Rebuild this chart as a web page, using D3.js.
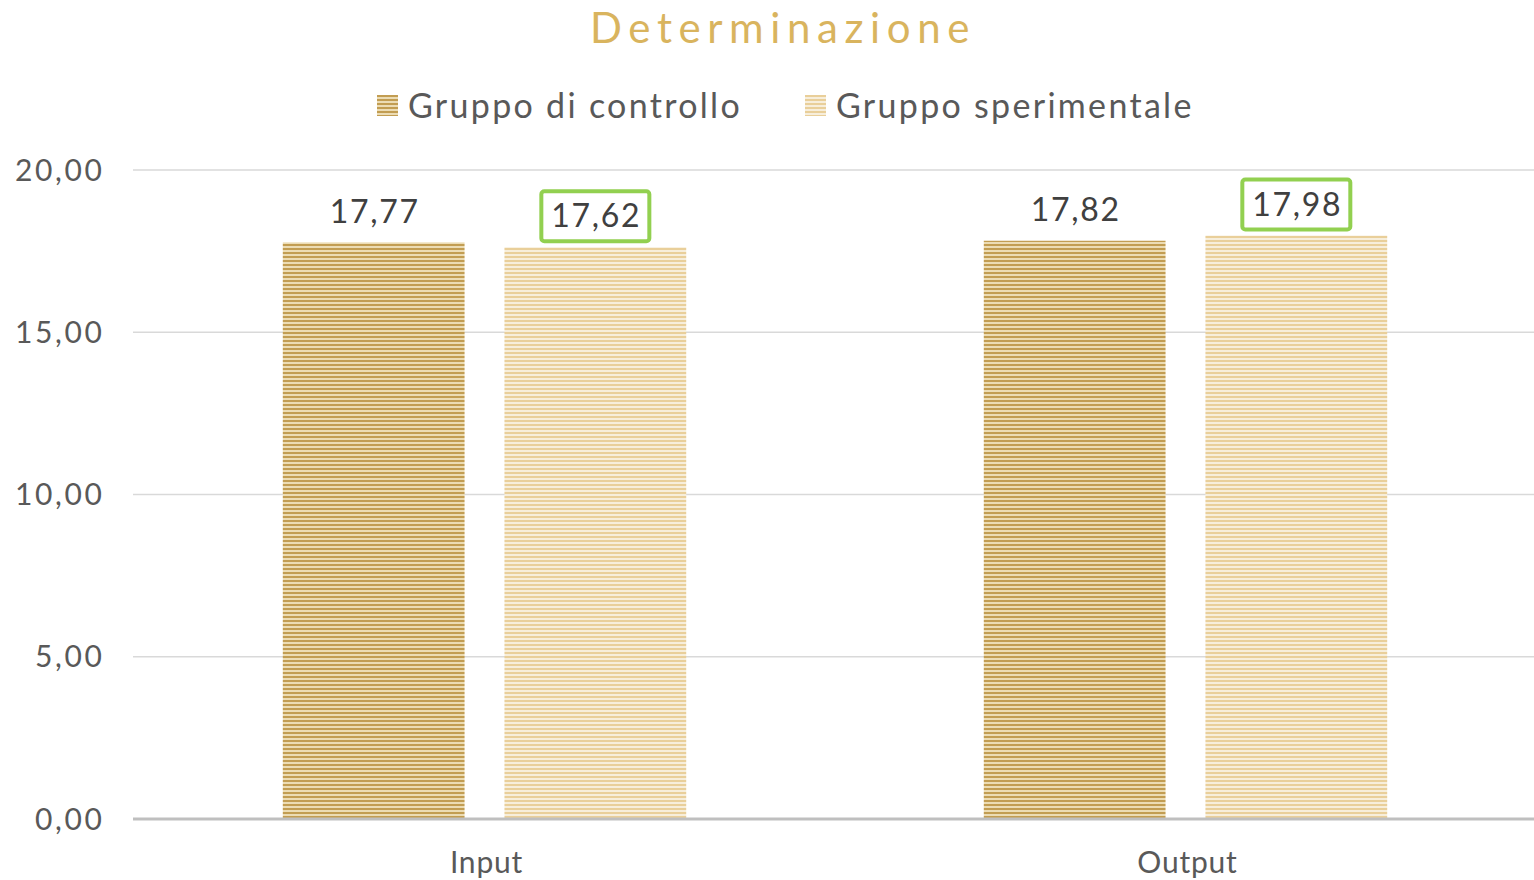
<!DOCTYPE html>
<meta charset="utf-8">
<style>
    body { margin: 0; background: #fff; }
    text { font-family: "Lato", "DejaVu Sans", sans-serif; }
</style>
<svg width="1534" height="880"></svg>
<script src="https://d3js.org/d3.v7.min.js"></script>
<script>

    var categories = ["Input", "Output"];
    var seriesNames = ["Gruppo di controllo", "Gruppo sperimentale"];
    var controllo = [17.77, 17.82];
    var sperimentale = [17.62, 17.98];
    var yTicks = [0, 5, 10, 15, 20];
    var highlighted = ["Gruppo sperimentale"];

    var svg = d3.select("svg"),
        width = +svg.attr("width"),
        height = +svg.attr("height");

    var margin = {top: 170, right: -3, bottom: 61, left: 133};

    var fmt = function (v) { return d3.format(".2f")(v).replace(".", ","); };

    // stripe patterns
    var defs = svg.append("defs");
    var patterns = [
        {id: "pat0", dark: "#c29d52", light: "#ecdcb4"},
        {id: "pat1", dark: "#e9cf9a", light: "#f7eedb"}
    ];
    patterns.forEach(function (p) {
        var pat = defs.append("pattern")
            .attr("id", p.id)
            .attr("patternUnits", "userSpaceOnUse")
            .attr("width", 8).attr("height", 4);
        pat.append("rect").attr("width", 8).attr("height", 4).attr("fill", p.light);
        pat.append("rect").attr("width", 8).attr("height", 2).attr("fill", p.dark);
    });

    var x0 = d3.scaleBand()
        .domain(categories)
        .range([margin.left, width - margin.right])
        .paddingInner(0.4245)
        .paddingOuter(0.2137);

    var x1 = d3.scaleBand()
        .domain(seriesNames)
        .range([0, x0.bandwidth()])
        .paddingInner(0.18);

    var y = d3.scaleLinear()
        .domain([0, 20])
        .range([height - margin.bottom, margin.top]);

    // gridlines
    svg.append("g")
        .selectAll("line")
        .data(yTicks.filter(function (d) { return d > 0; }))
        .enter().append("line")
        .attr("x1", margin.left)
        .attr("x2", width)
        .attr("y1", function (d) { return y(d); })
        .attr("y2", function (d) { return y(d); })
        .attr("stroke", "#d9d9d9")
        .attr("stroke-width", 1.3);

    // y labels
    svg.append("g")
        .selectAll("text")
        .data(yTicks)
        .enter().append("text")
        .attr("x", 104.5)
        .attr("y", function (d) { return y(d); })
        .attr("dy", "0.35em")
        .attr("text-anchor", "end")
        .attr("font-size", "30px")
        .attr("letter-spacing", "2.6px")
        .attr("fill", "#595959")
        .text(fmt);

    var rows = [];
    categories.forEach(function (c, i) {
        rows.push({cat: c, series: seriesNames[0], value: controllo[i], k: 0});
        rows.push({cat: c, series: seriesNames[1], value: sperimentale[i], k: 1});
    });

    // bars
    svg.append("g")
        .selectAll("rect")
        .data(rows)
        .enter().append("rect")
        .attr("x", function (d) { return x0(d.cat) + x1(d.series); })
        .attr("y", function (d) { return y(d.value); })
        .attr("width", x1.bandwidth())
        .attr("height", function (d) { return y(0) - y(d.value); })
        .attr("fill", function (d) { return "url(#pat" + d.k + ")"; });

    // baseline
    svg.append("line")
        .attr("x1", margin.left)
        .attr("x2", width)
        .attr("y1", y(0))
        .attr("y2", y(0))
        .attr("stroke", "#bfbfbf")
        .attr("stroke-width", 3);

    // x labels
    svg.append("g")
        .selectAll("text")
        .data(categories)
        .enter().append("text")
        .attr("x", function (d) { return x0(d) + x0.bandwidth() / 2 + 2; })
        .attr("y", 862)
        .attr("dy", "0.35em")
        .attr("text-anchor", "middle")
        .attr("font-size", "30px")
        .attr("letter-spacing", "0.8px")
        .attr("fill", "#595959")
        .text(function (d) { return d; });

    // value labels
    var labels = svg.append("g")
        .selectAll("g")
        .data(rows)
        .enter().append("g")
        .attr("transform", function (d) {
            return "translate(" + (x0(d.cat) + x1(d.series) + x1.bandwidth() / 2) + "," + (y(d.value) - 31) + ")";
        });

    labels.filter(function (d) { return highlighted.indexOf(d.series) >= 0; })
        .append("rect")
        .attr("x", -54)
        .attr("y", -25)
        .attr("width", 108)
        .attr("height", 50)
        .attr("rx", 3)
        .attr("fill", "#fff")
        .attr("stroke", "#92d050")
        .attr("stroke-width", 4);

    labels.append("text")
        .attr("x", 1)
        .attr("text-anchor", "middle")
        .attr("dy", "0.35em")
        .attr("font-size", "32px")
        .attr("letter-spacing", "1.7px")
        .attr("fill", "#404040")
        .text(function (d) { return fmt(d.value); });

    // title
    svg.append("text")
        .attr("x", 783)
        .attr("y", 28)
        .attr("dy", "0.35em")
        .attr("text-anchor", "middle")
        .attr("font-size", "42px")
        .attr("letter-spacing", "6.6px")
        .attr("fill", "#d9b45e")
        .text("Determinazione");

    // legend
    var legendX = [377, 805];
    var legend = svg.append("g")
        .selectAll("g")
        .data(seriesNames)
        .enter().append("g")
        .attr("transform", function (d, i) { return "translate(" + legendX[i] + ",95)"; });

    legend.append("rect")
        .attr("width", 21)
        .attr("height", 21)
        .attr("fill", function (d, i) { return "url(#pat" + i + ")"; });

    legend.append("text")
        .attr("x", 31)
        .attr("y", 11)
        .attr("dy", "0.35em")
        .attr("font-size", "34px")
        .attr("letter-spacing", "2.3px")
        .attr("fill", "#595959")
        .text(function (d) { return d; });

</script>
